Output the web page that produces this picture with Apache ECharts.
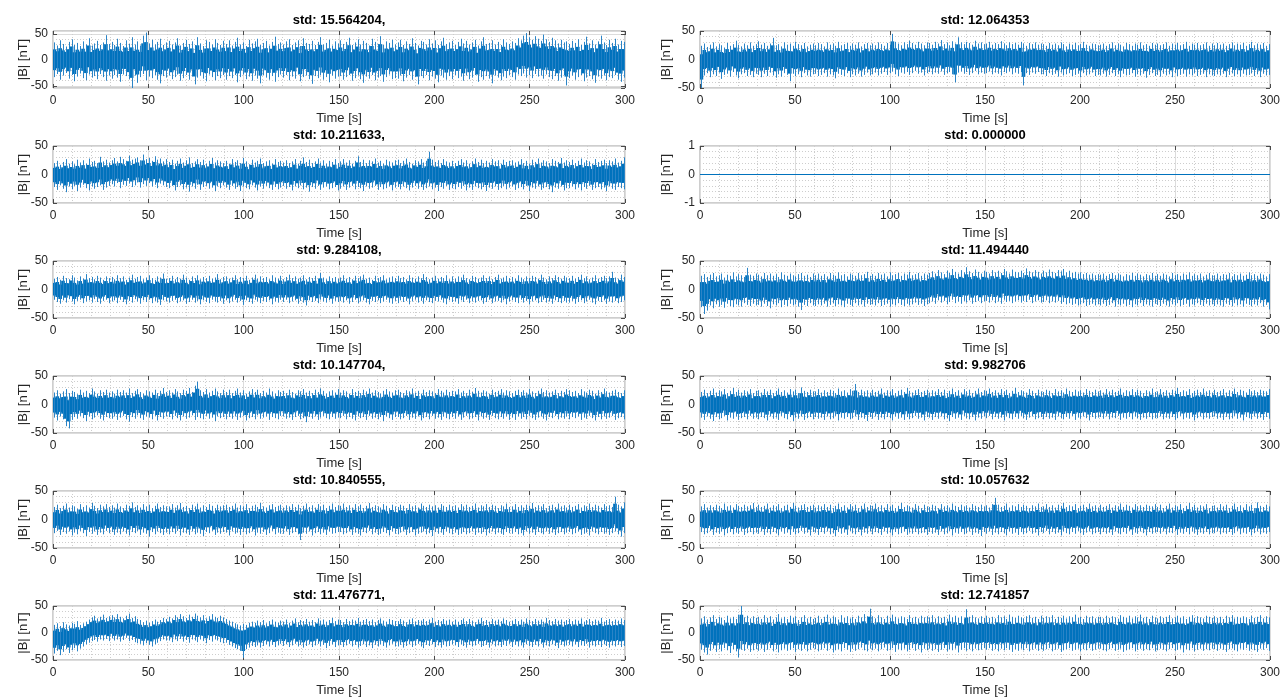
<!DOCTYPE html>
<html><head><meta charset="utf-8">
<script src="https://cdn.jsdelivr.net/npm/echarts@6/dist/echarts.min.js"></script>
<style>html,body{margin:0;padding:0;background:#fff}#c{width:1284px;height:698px}</style>
</head><body><div id="c"></div>
<script>
// Time axis and labels
const T_MIN = 0, T_MAX = 300;
const xLabel = 'Time [s]';
const yLabel = '|B| [nT]';
// Panel order: row by row, left then right
const stdValues = [15.564204, 12.064353, 10.211633, 0.000000, 9.284108, 11.494440,
  10.147704, 9.982706, 10.840555, 10.057632, 11.476771, 12.741857];
const yLimits = [[-54, 56], [-50, 50], [-50, 50], [-1, 1], [-50, 50], [-50, 50],
  [-50, 50], [-50, 50], [-50, 50], [-50, 50], [-50, 50], [-50, 50]];

// Per 1.5 s bin: upper (hi) and lower (lo) extremes of the trace
const L1_hi = [34,28,38,31,26,35,40,29,33,27,36,30,42,28,32,37,29,34,48,31,
35,29,41,33,27,38,31,44,30,36,28,47,53,32,39,30,35,41,29,34,
37,30,34,42,28,33,39,31,36,29,44,32,27,38,35,30,40,33,29,37,
31,38,28,35,43,30,34,27,39,32,36,41,29,33,37,28,35,45,31,34,
30,36,40,29,34,38,27,42,33,31,37,29,35,44,30,33,39,28,36,32,
38,31,35,43,29,34,40,30,37,33,28,41,35,31,46,29,36,33,39,30,
34,39,29,36,31,42,33,28,37,35,30,40,32,38,29,36,43,31,34,37,
29,35,41,32,37,30,34,39,28,36,44,31,33,38,30,35,29,40,34,31,
36,33,42,38,47,52,44,39,46,41,37,49,40,35,43,38,32,39,34,36,
31,37,33,40,29,35,45,32,38,30,36,47,34,29,39,33,41,30,37,35];
const L1_lo = [-33,-27,-38,-30,-25,-36,-29,-41,-32,-26,-35,-39,-28,-34,-31,-37,-27,-33,-40,-30,
-36,-29,-34,-42,-28,-31,-37,-54,-30,-44,-33,-27,-39,-32,-35,-29,-38,-45,-31,-34,
-30,-37,-33,-28,-40,-35,-29,-38,-32,-47,-34,-30,-36,-41,-28,-33,-39,-31,-35,-29,
-38,-31,-35,-29,-43,-33,-28,-37,-32,-40,-30,-36,-45,-29,-34,-38,-31,-42,-33,-28,
-34,-29,-39,-32,-36,-28,-41,-33,-30,-37,-46,-31,-35,-29,-38,-33,-43,-30,-36,-32,
-31,-38,-33,-29,-40,-35,-30,-37,-44,-32,-36,-29,-39,-34,-31,-42,-33,-28,-37,-35,
-36,-30,-41,-34,-29,-38,-33,-47,-31,-35,-29,-39,-32,-36,-43,-30,-34,-38,-31,-37,
-29,-35,-32,-40,-30,-37,-34,-29,-42,-33,-38,-31,-36,-45,-30,-34,-39,-32,-35,-29,
-33,-38,-28,-31,-26,-34,-29,-35,-27,-32,-30,-36,-28,-33,-37,-31,-40,-34,-29,-49,
-35,-30,-38,-33,-29,-41,-34,-31,-37,-44,-32,-36,-30,-39,-33,-35,-29,-38,-42,-34];

const L2_hi = [20,24,17,22,27,19,23,18,26,21,25,19,28,22,24,20,31,23,26,21,
25,29,23,31,27,24,33,26,28,30,25,35,27,29,24,32,26,28,23,27,
22,26,19,24,28,21,25,30,20,23,27,22,26,19,24,29,21,25,23,20,
24,19,27,22,25,20,29,23,18,26,21,24,28,20,23,25,19,27,22,24,
21,25,20,23,27,19,24,30,22,26,20,23,28,21,25,19,24,22,27,20,
23,27,21,25,19,24,32,22,26,20,25,23,28,21,24,19,26,23,21,25,
26,20,24,28,22,19,25,23,27,21,24,40,26,22,25,20,27,23,21,24,
20,24,27,21,25,19,23,28,22,26,20,24,21,27,23,25,19,26,22,24,
25,21,23,27,20,24,19,26,22,28,21,25,23,20,27,24,22,29,21,25,
22,26,20,24,28,21,25,23,19,27,22,24,26,20,25,23,28,21,24,30];
const L2_lo = [-22,-27,-19,-25,-31,-21,-26,-20,-29,-23,-18,-24,-28,-21,-25,-22,-19,-27,-23,-20,
-17,-21,-15,-24,-18,-20,-16,-22,-19,-14,-23,-17,-20,-15,-21,-18,-24,-16,-19,-22,
-24,-20,-28,-22,-19,-26,-23,-30,-21,-25,-18,-27,-22,-20,-25,-23,-29,-21,-24,-19,
-23,-27,-20,-25,-22,-29,-21,-24,-26,-19,-23,-28,-21,-25,-20,-24,-27,-22,-26,-23,
-20,-25,-22,-28,-21,-24,-19,-26,-23,-30,-22,-25,-20,-27,-23,-21,-26,-24,-22,-28,
-25,-21,-27,-23,-20,-26,-22,-24,-29,-21,-25,-23,-20,-27,-22,-26,-24,-21,-28,-23,
-22,-26,-21,-24,-28,-23,-20,-25,-22,-27,-24,-21,-26,-23,-29,-22,-25,-20,-27,-24,
-26,-22,-25,-20,-28,-23,-27,-21,-24,-26,-22,-29,-23,-25,-21,-27,-24,-20,-26,-23,
-21,-27,-24,-22,-26,-20,-29,-23,-25,-21,-27,-24,-22,-26,-31,-23,-25,-21,-28,-24,
-24,-21,-26,-23,-28,-22,-25,-20,-27,-24,-22,-26,-23,-29,-21,-25,-27,-22,-24,-26];

const L3_hi = [19,22,17,24,20,18,25,21,16,23,19,27,20,22,18,24,21,17,23,20,
22,18,25,20,23,17,21,26,19,22,24,18,21,25,20,17,23,21,28,19,
20,24,18,22,19,26,21,17,23,20,25,18,22,20,24,19,21,27,18,22,
23,19,21,25,18,22,20,24,17,21,26,19,23,20,22,18,25,21,19,24,
18,22,26,20,23,19,21,25,18,22,20,24,19,29,21,18,23,20,22,19,
21,25,19,22,18,24,20,23,26,19,21,17,24,20,22,25,18,21,23,20,
24,20,22,18,25,21,19,23,20,27,22,18,21,24,19,22,20,25,18,23,
19,23,21,26,20,18,24,22,19,21,25,20,23,18,22,26,19,21,24,20,
22,19,25,21,18,23,20,24,22,19,26,21,18,23,20,25,22,19,24,21,
20,24,19,22,26,20,23,18,21,25,19,22,24,20,23,31,21,19,26,22];
const L3_lo = [-18,-22,-25,-19,-23,-17,-21,-26,-20,-18,-24,-21,-19,-23,-17,-22,-25,-20,-18,-24,
-21,-19,-24,-18,-22,-26,-20,-23,-17,-21,-25,-19,-22,-18,-24,-20,-23,-27,-19,-21,
-23,-20,-18,-24,-21,-19,-25,-22,-18,-23,-20,-26,-19,-22,-24,-18,-21,-23,-20,-25,
-19,-24,-21,-18,-23,-20,-27,-19,-22,-25,-18,-21,-24,-20,-22,-19,-26,-21,-23,-18,
-22,-18,-24,-21,-19,-25,-20,-23,-28,-19,-22,-20,-24,-18,-21,-23,-19,-25,-20,-22,
-20,-23,-19,-25,-22,-18,-24,-21,-19,-23,-26,-20,-22,-19,-24,-21,-18,-23,-25,-20,
-24,-19,-22,-20,-26,-21,-18,-23,-20,-25,-19,-22,-24,-20,-21,-18,-23,-26,-19,-22,
-21,-25,-19,-22,-18,-24,-21,-23,-20,-19,-25,-22,-18,-24,-21,-20,-23,-19,-26,-21,
-19,-22,-24,-18,-23,-20,-26,-21,-19,-24,-22,-18,-23,-21,-25,-19,-22,-24,-20,-23,
-23,-20,-25,-22,-19,-24,-21,-18,-23,-26,-20,-22,-19,-25,-21,-23,-20,-24,-22,-19];

const L4_hi = [21,25,19,23,27,20,24,22,18,26,21,24,20,28,23,19,25,22,26,21,
23,19,26,22,25,21,28,20,24,27,22,19,25,23,21,26,20,24,29,22,
25,21,27,23,20,26,24,29,22,33,40,25,22,27,21,24,28,23,20,26,
22,26,20,24,28,21,25,19,23,27,22,26,20,24,21,28,23,19,25,22,
24,20,26,22,19,25,23,27,21,24,20,26,22,28,24,19,23,25,21,27,
21,25,23,19,27,22,24,20,26,23,28,21,25,22,19,24,27,23,21,25,
26,22,20,25,23,28,21,24,19,26,22,25,23,20,27,24,21,26,22,24,
23,27,21,24,20,26,22,29,24,21,25,23,19,26,22,24,27,21,25,23,
20,24,26,22,25,21,27,23,20,24,28,22,25,21,23,26,20,24,22,27,
25,22,24,20,27,23,21,26,24,19,25,22,28,23,21,24,26,22,20,25];
const L4_lo = [-23,-28,-21,-26,-38,-42,-27,-22,-25,-20,-24,-29,-21,-26,-23,-19,-25,-28,-22,-24,
-25,-21,-27,-23,-20,-26,-30,-22,-25,-19,-24,-27,-21,-23,-26,-20,-28,-22,-25,-21,
-22,-26,-20,-24,-28,-21,-25,-23,-19,-27,-22,-24,-26,-20,-25,-23,-29,-21,-24,-22,
-26,-22,-25,-21,-27,-23,-20,-28,-24,-22,-26,-19,-25,-23,-21,-27,-22,-24,-26,-20,
-21,-25,-23,-27,-22,-20,-26,-24,-31,-22,-25,-21,-27,-23,-20,-24,-26,-22,-25,-23,
-24,-20,-26,-22,-25,-28,-21,-24,-22,-27,-20,-25,-23,-26,-22,-29,-21,-24,-27,-22,
-22,-26,-24,-20,-27,-23,-25,-21,-28,-24,-22,-26,-20,-25,-23,-27,-21,-24,-26,-22,
-25,-21,-27,-23,-20,-26,-24,-22,-28,-21,-25,-23,-27,-20,-24,-26,-22,-25,-21,-27,
-23,-27,-21,-25,-22,-26,-20,-24,-27,-23,-21,-25,-28,-22,-24,-20,-26,-23,-25,-21,
-26,-22,-24,-21,-27,-23,-25,-20,-24,-28,-22,-26,-21,-25,-23,-20,-27,-24,-22,-26];

const L5_hi = [22,26,20,24,28,21,25,23,19,27,22,25,21,29,24,20,26,23,27,22,
25,21,28,23,20,26,24,30,22,25,21,27,23,26,20,24,28,22,25,23,
23,27,21,25,29,22,24,20,26,23,28,21,25,22,27,24,20,26,23,25,
26,22,24,28,21,25,23,27,20,24,26,22,29,23,21,25,27,22,24,26,
21,25,23,27,22,26,20,24,28,22,25,21,27,23,26,20,24,28,22,25,
24,28,22,25,21,27,23,26,20,24,29,22,25,23,21,27,24,20,26,23,
22,26,24,20,27,23,25,21,28,24,22,26,23,25,21,27,24,22,26,23,
25,21,27,23,26,22,24,28,21,25,23,27,22,26,24,20,25,23,28,22,
23,27,22,25,21,26,24,29,22,25,23,27,20,24,26,22,28,23,25,21,
26,22,24,27,21,25,23,28,22,26,24,21,27,23,25,22,40,26,23,30];
const L5_lo = [-24,-20,-27,-22,-25,-21,-28,-23,-26,-20,-24,-29,-22,-25,-21,-27,-23,-26,-20,-24,
-22,-27,-23,-26,-21,-25,-28,-22,-24,-20,-27,-23,-25,-30,-22,-26,-21,-24,-27,-23,
-26,-22,-25,-20,-28,-23,-24,-27,-21,-26,-23,-25,-29,-22,-24,-20,-27,-23,-25,-22,
-23,-28,-21,-25,-23,-27,-22,-26,-24,-21,-28,-23,-25,-22,-27,-24,-20,-26,-23,-25,
-25,-21,-27,-24,-22,-26,-36,-23,-25,-21,-28,-24,-22,-26,-23,-27,-21,-25,-24,-22,
-22,-26,-24,-21,-27,-23,-25,-28,-22,-24,-20,-26,-23,-27,-25,-22,-24,-28,-21,-25,
-26,-23,-21,-27,-24,-22,-28,-25,-23,-21,-26,-24,-29,-22,-25,-23,-27,-21,-24,-26,
-23,-27,-25,-22,-26,-24,-21,-27,-23,-25,-22,-28,-24,-21,-26,-23,-25,-27,-22,-24,
-25,-22,-26,-24,-28,-21,-25,-23,-27,-22,-24,-26,-21,-25,-23,-27,-24,-22,-26,-23,
-22,-26,-24,-21,-27,-25,-23,-28,-21,-24,-26,-22,-25,-23,-27,-24,-21,-26,-30,-24];

const L6_hi = [15,18,13,20,16,14,19,17,22,15,18,21,25,29,32,27,30,34,28,31,
33,29,35,30,27,32,36,28,31,26,24,20,23,19,22,25,21,24,28,26,
30,27,33,29,35,31,28,34,30,36,32,29,33,27,31,35,30,28,32,29,
26,23,21,18,16,14,17,15,19,21,19,23,20,24,18,22,25,21,19,23,
21,25,19,23,27,20,24,22,26,21,24,20,27,23,25,21,24,28,22,25,
24,20,26,22,25,23,28,21,24,26,22,25,20,24,27,23,21,26,24,22,
22,26,23,20,25,27,21,24,23,26,22,25,28,21,24,22,26,23,25,21,
25,21,24,27,22,26,23,20,25,28,22,24,21,26,23,25,22,27,24,21,
23,26,22,25,21,27,24,22,26,23,25,21,28,24,22,26,23,25,21,24,
26,22,25,23,27,21,24,26,22,25,23,28,21,24,26,22,25,23,27,24];
const L6_lo = [-38,-33,-41,-35,-30,-37,-32,-28,-34,-29,-25,-21,-18,-15,-13,-16,-12,-14,-11,-15,
-10,-14,-12,-16,-13,-9,-15,-13,-17,-19,-20,-23,-19,-22,-25,-21,-18,-15,-12,-14,
-14,-17,-12,-15,-11,-16,-13,-18,-12,-14,-17,-12,-15,-19,-13,-16,-12,-14,-17,-19,
-18,-22,-25,-28,-30,-33,-46,-30,-27,-24,-26,-23,-27,-24,-21,-25,-22,-26,-23,-20,
-24,-21,-26,-23,-20,-25,-22,-27,-24,-21,-26,-23,-20,-25,-22,-28,-24,-21,-26,-23,
-22,-26,-23,-20,-25,-22,-27,-24,-21,-26,-23,-28,-22,-25,-21,-24,-27,-23,-20,-25,
-25,-22,-27,-24,-21,-26,-23,-20,-25,-28,-22,-24,-21,-26,-23,-27,-22,-25,-24,-21,
-23,-26,-21,-24,-27,-22,-25,-23,-20,-26,-24,-22,-27,-21,-25,-23,-26,-22,-24,-20,
-26,-22,-25,-23,-27,-21,-24,-26,-22,-25,-20,-27,-23,-25,-21,-24,-28,-22,-25,-23,
-22,-25,-21,-26,-23,-24,-20,-27,-23,-25,-22,-26,-21,-24,-27,-23,-25,-22,-26,-24];

const R1_hi = [24,28,22,26,30,23,27,25,21,29,24,27,33,26,23,28,25,30,24,27,
32,26,29,24,28,38,25,27,23,30,26,28,24,31,27,25,29,23,26,28,
25,29,27,23,30,26,28,24,31,25,27,29,24,28,26,30,23,27,29,25,
28,25,30,27,24,29,26,45,31,28,25,30,27,33,29,26,31,28,25,30,
29,26,31,28,34,27,30,25,32,28,39,30,27,31,29,26,33,28,30,27,
28,31,26,29,27,32,28,25,30,27,29,26,31,28,24,29,27,30,26,28,
27,24,29,26,28,25,30,27,23,28,26,29,25,27,31,26,24,28,27,25,
26,28,24,27,30,25,28,26,23,29,27,24,28,26,30,25,27,24,29,26,
28,25,27,30,24,28,26,29,25,27,31,24,28,26,29,25,27,30,24,28,
25,29,26,28,24,27,30,25,28,26,29,24,27,31,25,28,26,29,24,27];
const R1_lo = [-50,-28,-24,-31,-26,-29,-23,-34,-27,-25,-30,-22,-28,-33,-26,-24,-29,-27,-31,-25,
-27,-31,-25,-29,-23,-28,-32,-26,-30,-24,-27,-38,-25,-29,-26,-31,-24,-28,-30,-26,
-25,-29,-27,-24,-30,-26,-28,-33,-25,-27,-29,-24,-31,-26,-28,-25,-30,-27,-23,-28,
-26,-23,-28,-25,-22,-27,-24,-21,-26,-29,-23,-25,-22,-27,-24,-20,-25,-23,-28,-24,
-22,-26,-23,-25,-21,-27,-24,-22,-26,-40,-23,-21,-25,-22,-27,-24,-20,-26,-23,-25,
-24,-21,-26,-23,-25,-28,-22,-24,-21,-26,-23,-25,-22,-45,-24,-27,-23,-25,-22,-26,
-26,-29,-24,-27,-25,-30,-23,-28,-26,-24,-29,-27,-25,-31,-24,-28,-26,-23,-29,-27,
-28,-25,-30,-27,-24,-29,-26,-31,-25,-28,-27,-24,-30,-26,-28,-25,-32,-27,-24,-29,
-27,-30,-25,-28,-26,-31,-24,-29,-27,-25,-30,-26,-28,-24,-29,-27,-25,-31,-26,-28,
-29,-26,-28,-25,-31,-27,-24,-29,-26,-30,-25,-28,-27,-24,-29,-26,-31,-25,-28,-27];

// Flat trace (std 0): samples at start and end of the record
const R2_values = [0, 0];

const R3_hi = [24,27,22,26,29,23,25,28,21,26,24,30,23,27,25,22,38,26,24,28,
26,23,29,25,28,24,27,22,30,26,24,28,25,23,27,29,24,26,22,28,
25,28,24,27,23,29,26,24,30,25,27,23,28,26,24,29,25,27,31,24,
27,24,29,26,28,23,30,25,27,29,24,28,26,31,25,27,29,24,28,26,
29,32,28,34,30,27,33,29,36,31,28,34,30,39,32,29,35,31,28,33,
31,28,34,30,33,29,36,32,28,35,31,30,33,29,37,32,30,34,31,28,
33,30,35,31,29,34,32,36,30,33,29,31,28,30,27,29,26,28,25,27,
26,28,24,27,29,25,28,26,23,27,25,29,24,28,26,23,27,25,29,24,
27,24,28,26,23,29,25,27,24,28,26,30,24,27,25,28,23,26,29,25,
25,28,24,27,26,29,23,27,25,28,24,26,30,25,27,24,28,26,23,27];
const R3_lo = [-31,-43,-37,-28,-33,-26,-30,-27,-32,-25,-29,-31,-26,-28,-30,-24,-27,-29,-25,-28,
-27,-30,-25,-29,-33,-26,-28,-24,-31,-27,-29,-25,-28,-26,-30,-36,-27,-29,-24,-28,
-29,-26,-28,-25,-30,-27,-24,-29,-26,-28,-31,-25,-27,-29,-24,-28,-26,-30,-25,-27,
-26,-28,-24,-29,-27,-25,-30,-26,-28,-24,-27,-29,-25,-28,-26,-23,-27,-25,-29,-26,
-24,-21,-25,-19,-23,-20,-26,-22,-18,-24,-21,-25,-20,-23,-19,-25,-22,-20,-24,-21,
-20,-23,-19,-24,-21,-25,-18,-22,-20,-24,-21,-19,-23,-20,-22,-18,-24,-21,-19,-23,
-22,-19,-24,-21,-23,-20,-25,-22,-26,-24,-27,-25,-28,-26,-24,-29,-27,-25,-28,-26,
-28,-25,-29,-27,-24,-30,-26,-28,-25,-29,-27,-31,-26,-28,-24,-29,-26,-28,-30,-25,
-27,-29,-25,-28,-30,-26,-28,-24,-29,-27,-25,-30,-26,-28,-24,-27,-29,-25,-28,-26,
-29,-26,-28,-30,-25,-27,-29,-24,-28,-26,-30,-25,-27,-29,-26,-28,-24,-30,-27,-35];

const R4_hi = [22,26,20,24,28,21,25,23,27,20,24,29,22,26,21,25,23,27,20,24,
25,21,27,23,26,20,24,28,22,25,21,27,23,26,20,30,24,22,26,23,
23,27,21,25,22,26,24,20,28,23,25,21,27,24,36,22,26,23,25,21,
26,22,24,28,21,25,23,27,20,24,26,22,29,24,21,25,27,22,24,26,
21,25,23,27,22,26,20,24,28,22,25,21,27,23,26,20,24,28,22,25,
24,28,22,25,21,27,23,26,20,24,29,22,25,23,21,27,24,20,26,23,
22,26,24,20,27,23,25,21,28,24,22,26,23,25,21,27,24,22,26,23,
25,21,27,23,26,22,24,28,21,25,23,27,22,26,24,20,25,23,28,22,
23,27,22,25,21,26,24,29,22,25,23,27,20,24,26,22,28,23,25,21,
26,22,24,27,21,25,23,28,22,26,24,21,27,23,25,22,26,24,23,27];
const R4_lo = [-23,-27,-21,-25,-29,-22,-26,-24,-20,-28,-23,-25,-21,-27,-24,-22,-26,-20,-25,-23,
-26,-22,-24,-28,-21,-25,-23,-27,-20,-24,-26,-22,-29,-23,-25,-21,-27,-24,-22,-26,
-22,-25,-23,-27,-21,-26,-24,-20,-28,-23,-25,-22,-26,-24,-21,-27,-23,-25,-29,-22,
-25,-21,-27,-23,-26,-22,-24,-28,-21,-25,-23,-27,-22,-26,-24,-20,-25,-23,-28,-22,
-23,-27,-22,-25,-21,-26,-24,-29,-22,-25,-23,-27,-20,-24,-26,-22,-28,-23,-25,-21,
-24,-20,-26,-22,-25,-23,-28,-21,-24,-26,-22,-25,-20,-24,-27,-23,-21,-26,-24,-22,
-26,-22,-25,-23,-27,-21,-24,-26,-22,-25,-20,-27,-23,-25,-21,-24,-28,-22,-25,-23,
-22,-25,-21,-26,-23,-24,-20,-27,-23,-25,-22,-26,-21,-24,-27,-23,-25,-22,-26,-24,
-24,-21,-26,-23,-25,-22,-27,-24,-20,-26,-23,-25,-22,-28,-24,-21,-26,-23,-25,-22,
-21,-25,-23,-27,-22,-26,-24,-20,-25,-23,-28,-22,-24,-26,-21,-25,-23,-27,-22,-25];

const R5_hi = [23,27,21,25,22,26,24,20,28,23,25,21,27,24,22,26,23,25,29,22,
26,22,24,28,21,25,23,27,20,24,26,22,29,24,21,25,27,22,24,26,
21,25,23,27,22,26,20,24,28,22,25,21,27,23,26,20,24,28,22,25,
24,28,22,25,21,27,23,26,20,24,29,22,25,23,21,27,24,20,26,23,
22,26,24,20,27,23,25,21,28,24,22,26,23,25,21,27,24,22,26,23,
25,21,27,38,26,22,24,28,21,25,23,27,22,26,24,20,25,23,28,22,
23,27,22,25,21,26,24,29,22,25,23,27,20,24,26,22,28,23,25,21,
26,22,24,27,21,25,23,28,22,26,24,21,27,23,25,22,26,24,23,27,
22,26,20,24,28,21,25,23,27,20,24,29,22,26,21,25,23,27,20,24,
25,21,27,23,26,20,24,28,22,25,21,27,23,26,20,30,24,22,26,23];
const R5_lo = [-22,-26,-24,-20,-27,-23,-25,-21,-28,-24,-22,-26,-23,-25,-21,-27,-24,-22,-26,-23,
-25,-21,-27,-23,-26,-22,-24,-28,-21,-25,-23,-27,-22,-26,-24,-20,-25,-23,-28,-22,
-23,-27,-22,-25,-21,-26,-24,-29,-22,-25,-23,-27,-20,-24,-26,-22,-28,-23,-25,-21,
-26,-22,-24,-27,-21,-25,-23,-28,-22,-26,-24,-21,-27,-23,-25,-22,-26,-24,-23,-27,
-22,-25,-23,-27,-21,-26,-24,-20,-28,-23,-25,-22,-26,-24,-21,-27,-23,-25,-29,-22,
-25,-21,-27,-23,-26,-22,-24,-28,-21,-25,-23,-27,-22,-26,-24,-20,-25,-23,-28,-22,
-24,-20,-26,-22,-25,-23,-28,-21,-24,-26,-22,-25,-20,-24,-27,-23,-21,-26,-24,-22,
-26,-22,-25,-23,-27,-21,-24,-26,-22,-25,-20,-27,-23,-25,-21,-24,-28,-22,-25,-23,
-22,-25,-21,-26,-23,-24,-20,-27,-23,-25,-22,-26,-21,-24,-27,-23,-25,-22,-26,-24,
-24,-21,-26,-23,-25,-22,-27,-24,-20,-26,-23,-25,-22,-28,-24,-21,-26,-23,-25,-22];

const R6_hi = [27,31,25,29,33,26,30,28,24,32,27,30,26,34,50,29,32,27,31,28,
30,26,33,28,31,25,29,35,27,30,26,32,28,31,24,29,33,27,30,26,
28,32,26,30,34,27,31,29,25,33,28,31,27,30,26,32,29,35,31,45,
31,27,33,29,26,32,28,34,30,27,31,29,26,33,28,30,27,32,29,31,
29,33,27,31,28,30,26,34,29,32,28,31,27,44,30,33,29,27,31,28,
32,28,30,27,33,29,31,26,34,30,28,32,29,27,31,33,28,30,26,32,
28,31,29,33,26,30,28,32,27,31,29,34,28,30,26,32,29,31,27,30,
30,27,32,28,31,29,26,33,30,28,32,27,31,29,34,28,30,26,32,29,
27,31,28,30,33,27,29,32,28,31,26,30,33,28,31,29,27,32,30,28,
31,28,30,26,32,29,33,27,30,28,31,29,26,32,28,30,33,27,31,29];
const R6_lo = [-31,-36,-40,-33,-29,-35,-30,-34,-28,-32,-37,-30,-34,-45,-31,-33,-29,-35,-32,-30,
-33,-29,-35,-31,-28,-34,-30,-36,-32,-29,-33,-31,-28,-35,-30,-33,-29,-34,-31,-28,
-30,-34,-31,-28,-33,-29,-36,-32,-30,-34,-28,-31,-35,-29,-33,-30,-27,-32,-34,-29,
-32,-29,-34,-30,-27,-33,-31,-28,-35,-30,-32,-29,-34,-31,-28,-33,-30,-36,-29,-32,
-29,-33,-30,-35,-31,-28,-34,-30,-32,-29,-36,-31,-28,-33,-30,-34,-29,-32,-31,-28,
-31,-28,-33,-30,-34,-29,-32,-28,-31,-35,-30,-33,-29,-32,-28,-34,-31,-29,-33,-30,
-33,-30,-28,-34,-31,-29,-35,-32,-30,-28,-33,-31,-29,-34,-30,-32,-28,-33,-31,-29,
-29,-32,-34,-30,-28,-33,-31,-29,-35,-32,-30,-28,-34,-31,-29,-33,-30,-32,-28,-34,
-32,-29,-31,-34,-30,-28,-33,-31,-29,-36,-30,-32,-28,-34,-31,-29,-33,-30,-32,-29,
-30,-33,-29,-31,-35,-30,-28,-32,-34,-29,-31,-28,-33,-30,-32,-35,-29,-31,-28,-33];

const bands = [[L1_hi, L1_lo], [R1_hi, R1_lo], [L2_hi, L2_lo], null, [L3_hi, L3_lo], [R3_hi, R3_lo],
  [L4_hi, L4_lo], [R4_hi, R4_lo], [L5_hi, L5_lo], [R5_hi, R5_lo], [L6_hi, L6_lo], [R6_hi, R6_lo]];

const FONT = '"Liberation Sans", Arial, Helvetica, sans-serif';
const TXT = '#262626';
const LINE = '#0072BD', HAIR = '#2a84c7';
const CORE = 0.6;
const grids = [], xAxes = [], yAxes = [], series = [], graphics = [];

function bandSeries(k, hi, lo) {
  const n = hi.length, w = (T_MAX - T_MIN) / n;
  const data = hi.map((h, i) => [T_MIN + (i + 0.5) * w, lo[i], h]);
  return {type: 'custom', xAxisIndex: 2 * k, yAxisIndex: 2 * k, data, encode: {x: 0, y: [1, 2]}, z: 3, clip: true,
    renderItem: (params, api) => {
      const t = api.value(0), l = api.value(1), h = api.value(2);
      const cs = params.coordSys;
      const clampY = y => Math.min(cs.y + cs.height, Math.max(cs.y, y));
      const bw = api.size([w, 0])[0];
      const xc = api.coord([t, 0])[0];
      const m = (h + l) / 2;
      const yH = clampY(api.coord([t, h])[1]), yL = clampY(api.coord([t, l])[1]);
      const yCH = api.coord([t, m + CORE * (h - m)])[1], yCL = api.coord([t, m + CORE * (l - m)])[1];
      const x0 = Math.max(cs.x, xc - bw / 2 - 0.4), x1 = Math.min(cs.x + cs.width, xc + bw / 2 + 0.4);
      const xh = Math.round(xc) + 0.5;
      return {type: 'group', children: [
        {type: 'rect', shape: {x: x0, y: yCH, width: x1 - x0, height: yCL - yCH}, style: {fill: LINE}},
        {type: 'line', shape: {x1: xh, y1: yH, x2: xh, y2: yL}, style: {stroke: HAIR, lineWidth: 1}}
      ]};
    }};
}

stdValues.forEach((sd, k) => {
  const row = Math.floor(k / 2), col = k % 2;
  const left = col ? 700 : 53, width = col ? 570 : 572;
  const top = 31 + 115 * row, height = 57;
  grids.push({left, top, width, height, show: true, borderColor: '#9c9c9c', borderWidth: 1, backgroundColor: '#fff'});
  const tick = {show: true, inside: true, length: 4, lineStyle: {color: '#4a4a4a', width: 1}};
  const minorSplit = {show: true, lineStyle: {color: '#cdcdcd', type: [1, 2], width: 1}};
  const split = {show: true, lineStyle: {color: '#dcdcdc', width: 1}};
  const noLine = {show: false, onZero: false};
  xAxes.push({type: 'value', gridIndex: k, position: 'bottom', min: T_MIN, max: T_MAX, interval: 50,
    axisLine: noLine, axisTick: tick,
    axisLabel: {fontSize: 12, color: TXT, margin: 7, fontFamily: FONT},
    splitLine: split, minorTick: {show: false, splitNumber: 5}, minorSplitLine: minorSplit,
    name: xLabel, nameLocation: 'middle', nameGap: 24,
    nameTextStyle: {fontSize: 13, color: TXT, fontFamily: FONT}});
  xAxes.push({type: 'value', gridIndex: k, position: 'top', min: T_MIN, max: T_MAX, interval: 50,
    axisLine: noLine, axisTick: tick, axisLabel: {show: false}, splitLine: {show: false}});
  const [ymin, ymax] = yLimits[k];
  const yBase = {type: 'value', gridIndex: k, min: ymin, max: ymax};
  const clipped = ymin % 50 !== 0 && Math.abs(ymin) > 1;
  if (clipped) { yBase.splitNumber = 2; } else { yBase.interval = (ymax - ymin) / 2; }
  yAxes.push(Object.assign({}, yBase, {position: 'left',
    axisLine: noLine, axisTick: tick,
    axisLabel: {fontSize: 12, color: TXT, margin: 5, fontFamily: FONT, showMinLabel: !clipped, showMaxLabel: !clipped},
    splitLine: split, minorTick: {show: false, splitNumber: 5}, minorSplitLine: minorSplit,
    name: yLabel, nameLocation: 'middle', nameGap: col ? 27 : 23, nameRotate: 90, nameMoveOverlap: false,
    nameTextStyle: {fontSize: 13, color: TXT, fontFamily: FONT}}));
  yAxes.push(Object.assign({}, yBase, {position: 'right',
    axisLine: noLine, axisTick: tick, axisLabel: {show: false}, splitLine: {show: false}}));
  if (bands[k]) {
    series.push(bandSeries(k, bands[k][0], bands[k][1]));
  } else {
    const n = R2_values.length;
    series.push({type: 'line', xAxisIndex: 2 * k, yAxisIndex: 2 * k, z: 3,
      data: R2_values.map((v, i) => [T_MIN + i * (T_MAX - T_MIN) / (n - 1), v]),
      showSymbol: false, symbol: 'none', lineStyle: {color: LINE, width: 1}});
  }
  graphics.push({type: 'text', x: left + width / 2, y: top - 11,
    style: {text: 'std: ' + sd.toFixed(6) + (col ? '' : ','), fill: '#000',
      font: 'bold 13px ' + FONT, textAlign: 'center', textVerticalAlign: 'middle'}});
});

const chart = echarts.init(document.getElementById('c'), null, {renderer: 'canvas'});
chart.setOption({animation: false, backgroundColor: '#fff', grid: grids, xAxis: xAxes, yAxis: yAxes, series, graphic: graphics});
</script></body></html>
